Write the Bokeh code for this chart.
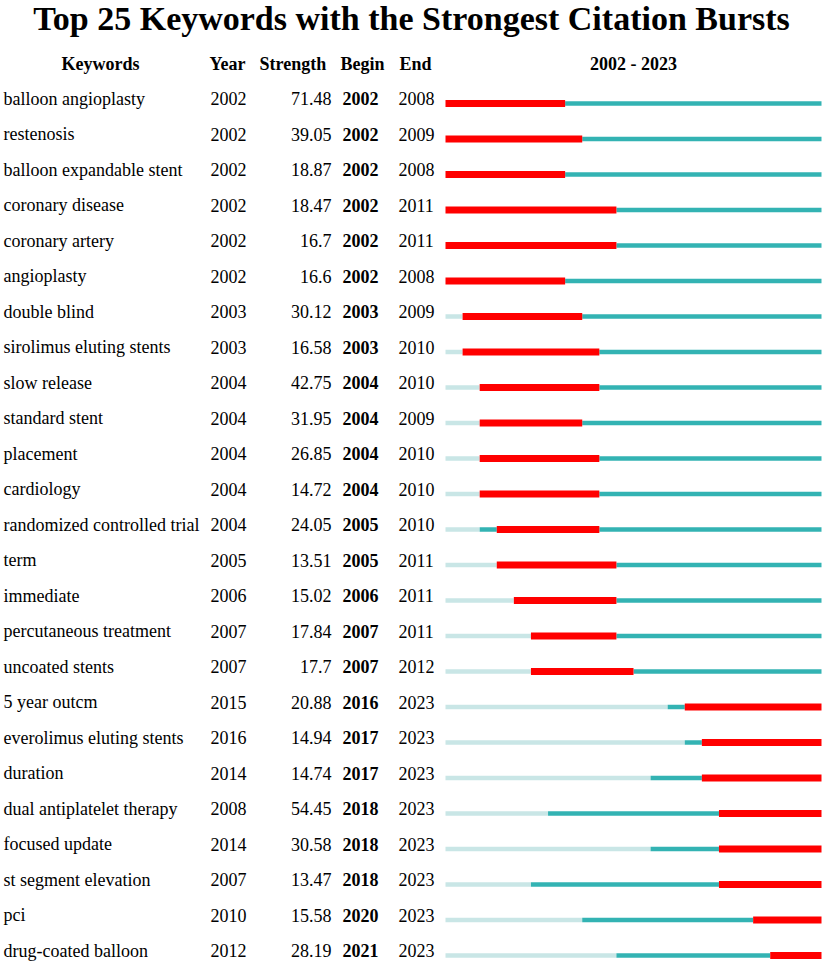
from bokeh.plotting import figure
from bokeh.models import Range1d, ColumnDataSource
from bokeh.core.properties import value
from bokeh.embed import file_html
from bokeh.resources import INLINE

# ---------------- data ----------------
keywords = ["balloon angioplasty", "restenosis", "balloon expandable stent", "coronary disease",
            "coronary artery", "angioplasty", "double blind", "sirolimus eluting stents",
            "slow release", "standard stent", "placement", "cardiology",
            "randomized controlled trial", "term", "immediate", "percutaneous treatment",
            "uncoated stents", "5 year outcm", "everolimus eluting stents", "duration",
            "dual antiplatelet therapy", "focused update", "st segment elevation", "pci",
            "drug-coated balloon"]
years = [2002, 2002, 2002, 2002, 2002, 2002, 2003, 2003, 2004, 2004, 2004, 2004, 2004,
         2005, 2006, 2007, 2007, 2015, 2016, 2014, 2008, 2014, 2007, 2010, 2012]
strengths = ["71.48", "39.05", "18.87", "18.47", "16.7", "16.6", "30.12", "16.58", "42.75",
             "31.95", "26.85", "14.72", "24.05", "13.51", "15.02", "17.84", "17.7", "20.88",
             "14.94", "14.74", "54.45", "30.58", "13.47", "15.58", "28.19"]
begins = [2002, 2002, 2002, 2002, 2002, 2002, 2003, 2003, 2004, 2004, 2004, 2004, 2005,
          2005, 2006, 2007, 2007, 2016, 2017, 2017, 2018, 2018, 2018, 2020, 2021]
ends = [2008, 2009, 2008, 2011, 2011, 2008, 2009, 2010, 2010, 2009, 2010, 2010, 2010,
        2011, 2011, 2011, 2012, 2023, 2023, 2023, 2023, 2023, 2023, 2023, 2023]
first_year, last_year = 2002, 2023
title_text = "Top 25 Keywords with the Strongest Citation Bursts"
headers = ["Keywords", "Year", "Strength", "Begin", "End"]

# ---------------- styles / layout ----------------
W, H = 824, 961
ROW0_PX, ROW_PX = 98.0, 35.5
FONT = "Liberation Serif"
RED, TEAL, LIGHT = "#FF0000", "#33B3B3", "#C9E6E6"
BAR_OFF = 5.0 / ROW_PX
TL_LEFT_PX, TL_RIGHT_PX = 445.0, 821.0

def row_of(px):
    return (px - ROW0_PX) / ROW_PX

ytop = row_of(0)
ybot = row_of(H)
px_per_year = (TL_RIGHT_PX - TL_LEFT_PX) / (last_year + 1 - first_year)
yr0 = first_year - TL_LEFT_PX / px_per_year
yr1 = yr0 + W / px_per_year

p = figure(width=W, height=H, output_backend="svg", toolbar_location=None,
           x_range=Range1d(0, W), y_range=Range1d(ybot, ytop),
           min_border=0, outline_line_color=None)
p.extra_x_ranges = {"yr": Range1d(yr0, yr1)}
p.xaxis.visible = False
p.yaxis.visible = False
p.grid.visible = False
p.background_fill_color = "white"
p.border_fill_color = "white"

n = len(keywords)
rows = list(range(n))

def txt(xs, ys, texts, align="left", bold=False, size="18px", baseline="middle"):
    src = ColumnDataSource(dict(x=xs, y=ys, t=texts))
    p.text(x="x", y="y", text="t", source=src, text_font=value(FONT),
           text_font_size=size, text_align=align, text_baseline=baseline,
           text_font_style="bold" if bold else "normal", text_color="black")

# title
txt([411], [row_of(18)], [title_text], align="center", bold=True, size="34px",
    baseline="middle")

# headers
hy = row_of(63)
txt([100], [hy], [headers[0]], align="center", bold=True)
txt([209, 259, 340, 399], [hy] * 4, headers[1:], bold=True)
txt([633], [hy], [f"{first_year} - {last_year}"], align="center", bold=True)

# table columns
txt([3] * n, rows, keywords)
txt([210] * n, rows, [str(v) for v in years])
txt([331] * n, rows, strengths, align="right")
txt([342] * n, rows, [str(v) for v in begins], bold=True)
txt([398] * n, rows, [str(v) for v in ends])

# timeline bars
by = [r + BAR_OFF for r in rows]
light_src = ColumnDataSource(dict(y=[b for b, yv in zip(by, years) if yv > first_year],
                                  l=[first_year for yv in years if yv > first_year],
                                  r=[yv for yv in years if yv > first_year]))
teal_a = ColumnDataSource(dict(y=[b for b, yv, bg in zip(by, years, begins) if bg > yv],
                               l=[yv for yv, bg in zip(years, begins) if bg > yv],
                               r=[bg for yv, bg in zip(years, begins) if bg > yv]))
teal_b = ColumnDataSource(dict(y=[b for b, e in zip(by, ends) if e < last_year],
                               l=[e + 1 for e in ends if e < last_year],
                               r=[last_year + 1 for e in ends if e < last_year]))
red_src = ColumnDataSource(dict(y=by, l=begins, r=[e + 1 for e in ends]))

thin = 4.5 / ROW_PX
thick = 7.0 / ROW_PX
for src, col, h in [(light_src, LIGHT, thin), (teal_a, TEAL, thin),
                    (teal_b, TEAL, thin), (red_src, RED, thick)]:
    p.hbar(y="y", left="l", right="r", height=h, source=src, fill_color=col,
           line_color=None, x_range_name="yr")

open("out.html", "w").write(file_html(p, INLINE))
